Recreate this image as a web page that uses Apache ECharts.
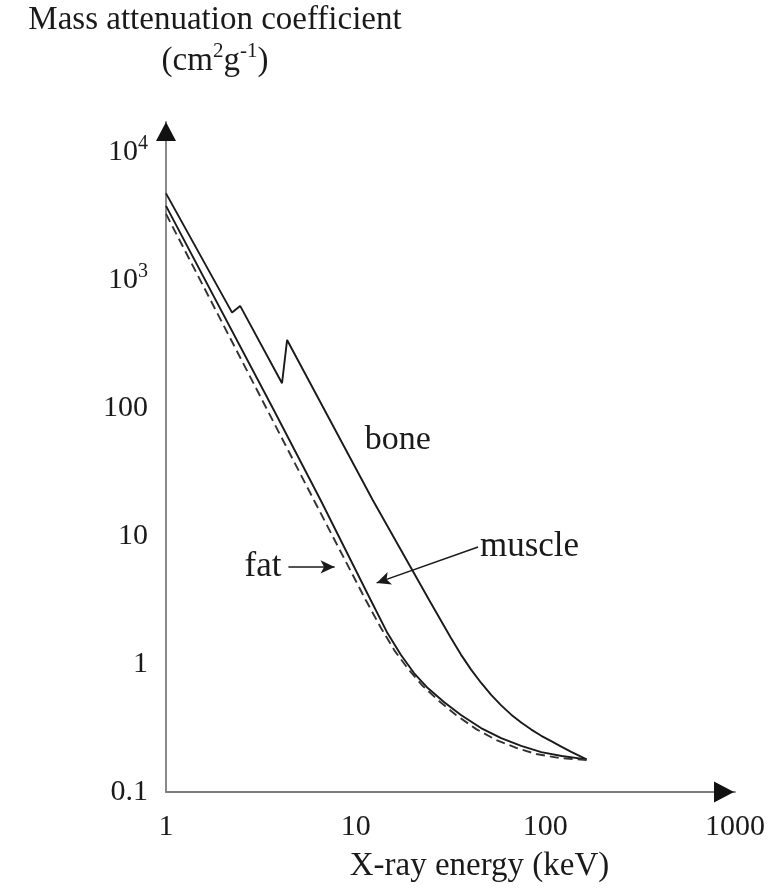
<!DOCTYPE html>
<html><head><meta charset="utf-8">
<script src="https://cdn.jsdelivr.net/npm/echarts@6/dist/echarts.min.js"></script>
<style>html,body{margin:0;padding:0;background:#fff}#c{width:777px;height:896px}</style>
</head><body><div id="c"></div>
<script>
// ---- data (energy in keV, mass attenuation coefficient in cm^2/g) ----
const boneEnergy   = [1, 2.23, 2.46, 4.09, 4.35, 12.3, 24.4, 31.8, 35.9, 40.6, 45.9, 51.8, 58.5, 66.1, 74.6, 84.3, 95.2, 108, 122, 137, 165];
const boneMu       = [4750, 556, 627, 156, 340, 19.1, 3.16, 1.596, 1.184, 0.904, 0.711, 0.574, 0.475, 0.402, 0.3485, 0.3073, 0.2748, 0.2485, 0.2254, 0.2061, 0.18];
const muscleEnergy = [1, 3.70, 6.53, 12.0, 14.6, 17.3, 20.3, 24.0, 29.2, 35.9, 45.8, 58.5, 74.6, 95.2, 122, 165];
const muscleMu     = [3790, 96.5, 19.1, 3.16, 1.78, 1.18, 0.85, 0.649, 0.505, 0.40, 0.316, 0.264, 0.229, 0.205, 0.191, 0.18];
const fatEnergy    = [1, 3.42, 6.02, 11.3, 13.6, 16.1, 19.1, 22.6, 27.5, 33.8, 43.2, 55.0, 70.3, 89.6, 119, 165];
const fatMu        = [3280, 96.5, 19.1, 3.16, 1.91, 1.26, 0.897, 0.673, 0.514, 0.40, 0.310, 0.255, 0.221, 0.198, 0.184, 0.178];

const xTickValues = [1, 10, 100, 1000];
const xTickLabels = ['1', '10', '100', '1000'];
const yTickValues = [0.1, 1, 10, 100, 1000, 10000];
const yTickLabels = ['0.1', '1', '10', '100', '10^3', '10^4'];

const seriesNames = ['bone', 'muscle', 'fat'];
const boneLabelAt = [16.7, 56.0];
const fatArrow    = [[4.42, 5.73], [7.74, 5.73]];
const muscleArrow = [[44.2, 8.2], [12.9, 4.30]];

// ---- chart ----
const FONT = "'Liberation Serif', 'Times New Roman', serif";
const TXT = '#1a1a1a';
const zip = (a, b) => a.map((v, i) => [v, b[i]]);

function lookup(v, vals, labels) {
  const lv = Math.log10(v);
  for (let i = 0; i < vals.length; i++) {
    if (Math.abs(lv - Math.log10(vals[i])) < 1e-6) return labels[i];
  }
  return null;
}
function richLabel(lab) {
  if (lab.indexOf('^') >= 0) {
    const p = lab.split('^');
    return '{b|' + p[0] + '}{s|' + p[1] + '}';
  }
  return '{b|' + lab + '}';
}
const tickRich = {
  b: { fontFamily: FONT, fontSize: 30, lineHeight: 36, color: TXT },
  s: { fontFamily: FONT, fontSize: 20, lineHeight: 22, color: TXT, verticalAlign: 'top' }
};

const X_MIN = 1, X_MAX = 1000, Y_MIN = 0.1, Y_MAX = 17140;

const chart = echarts.init(document.getElementById('c'), null, { renderer: 'canvas' });
chart.setOption({
  animation: false,
  backgroundColor: '#fff',
  grid: { left: 166, right: 42, top: 122, bottom: 104, containLabel: false, outerBoundsMode: 'none' },
  xAxis: [{
    type: 'log', logBase: 10, min: X_MIN, max: X_MAX, position: 'bottom',
    name: 'X-ray energy (keV)', nameLocation: 'middle', nameGap: 58,
    nameTextStyle: { fontFamily: FONT, fontSize: 33, color: TXT, padding: [0, 0, 0, 58] },
    axisLine: { show: true, onZero: false, lineStyle: { color: '#7d7d7d', width: 1.8 } },
    axisTick: { show: false }, splitLine: { show: false }, minorSplitLine: { show: false },
    axisLabel: {
      margin: 17, rich: tickRich, showMinLabel: true, showMaxLabel: true,
      formatter: v => { const l = lookup(v, xTickValues, xTickLabels); return l ? richLabel(l) : ''; }
    }
  }, {
    type: 'log', logBase: 10, min: X_MIN, max: X_MAX, position: 'bottom',
    axisLine: { show: true, onZero: false, symbol: ['none', 'triangle'], symbolSize: [21, 20], symbolOffset: [0, -11],
      lineStyle: { color: '#111', width: 0 } },
    axisTick: { show: false }, splitLine: { show: false }, axisLabel: { show: false }
  }],
  yAxis: [{
    type: 'log', logBase: 10, min: Y_MIN, max: Y_MAX, position: 'left',
    name: 'Mass attenuation coefficient\n(cm{s|2}g{s|-1})', nameLocation: 'end', nameGap: 40,
    nameTextStyle: {
      fontFamily: FONT, fontSize: 33, lineHeight: 41, color: TXT, align: 'center', verticalAlign: 'bottom',
      padding: [0, 0, 0, 98],
      rich: { s: { fontFamily: FONT, fontSize: 21, lineHeight: 24, color: TXT, verticalAlign: 'top' } }
    },
    axisLine: { show: true, onZero: false, lineStyle: { color: '#7d7d7d', width: 1.8 } },
    axisTick: { show: false }, splitLine: { show: false }, minorSplitLine: { show: false },
    axisLabel: {
      margin: 18, rich: tickRich, showMaxLabel: true,
      formatter: v => { const l = lookup(v, yTickValues, yTickLabels); return l ? richLabel(l) : ''; }
    }
  }, {
    type: 'log', logBase: 10, min: Y_MIN, max: Y_MAX, position: 'left',
    axisLine: { show: true, onZero: false, symbol: ['none', 'triangle'], symbolSize: [20, 19], symbolOffset: [0, -9.5],
      lineStyle: { color: '#111', width: 0 } },
    axisTick: { show: false }, splitLine: { show: false }, axisLabel: { show: false }
  }],
  series: [{
    name: seriesNames[0], type: 'line', xAxisIndex: 0, yAxisIndex: 0,
    data: zip(boneEnergy, boneMu), showSymbol: false, symbol: 'none', smooth: false,
    lineStyle: { color: '#1a1a1a', width: 1.9 }, z: 3,
    markPoint: {
      silent: true, symbol: 'rect', symbolSize: 0, itemStyle: { color: 'transparent' },
      label: { show: true, position: 'inside', formatter: seriesNames[0], fontFamily: FONT, fontSize: 34, color: TXT },
      data: [{ coord: boneLabelAt }]
    }
  }, {
    name: seriesNames[1], type: 'line', xAxisIndex: 0, yAxisIndex: 0,
    data: zip(muscleEnergy, muscleMu), showSymbol: false, symbol: 'none', smooth: false,
    lineStyle: { color: '#1a1a1a', width: 1.9 }, z: 3,
    markLine: {
      silent: true, symbol: ['none', 'arrow'], symbolSize: [10, 14],
      lineStyle: { color: '#1a1a1a', width: 1.5, type: 'solid' },
      label: { show: true, position: 'start', distance: 2, formatter: seriesNames[1], fontFamily: FONT, fontSize: 35, color: TXT },
      data: [[{ coord: muscleArrow[0] }, { coord: muscleArrow[1] }]]
    }
  }, {
    name: seriesNames[2], type: 'line', xAxisIndex: 0, yAxisIndex: 0,
    data: zip(fatEnergy, fatMu), showSymbol: false, symbol: 'none', smooth: false,
    lineStyle: { color: '#333', width: 1.9, type: [9, 5] }, z: 3,
    markLine: {
      silent: true, symbol: ['none', 'arrow'], symbolSize: [10, 14],
      lineStyle: { color: '#1a1a1a', width: 1.5, type: 'solid' },
      label: { show: true, position: 'start', distance: 7, formatter: seriesNames[2], fontFamily: FONT, fontSize: 35, color: TXT },
      data: [[{ coord: fatArrow[0] }, { coord: fatArrow[1] }]]
    }
  }]
});
</script>
</body></html>
